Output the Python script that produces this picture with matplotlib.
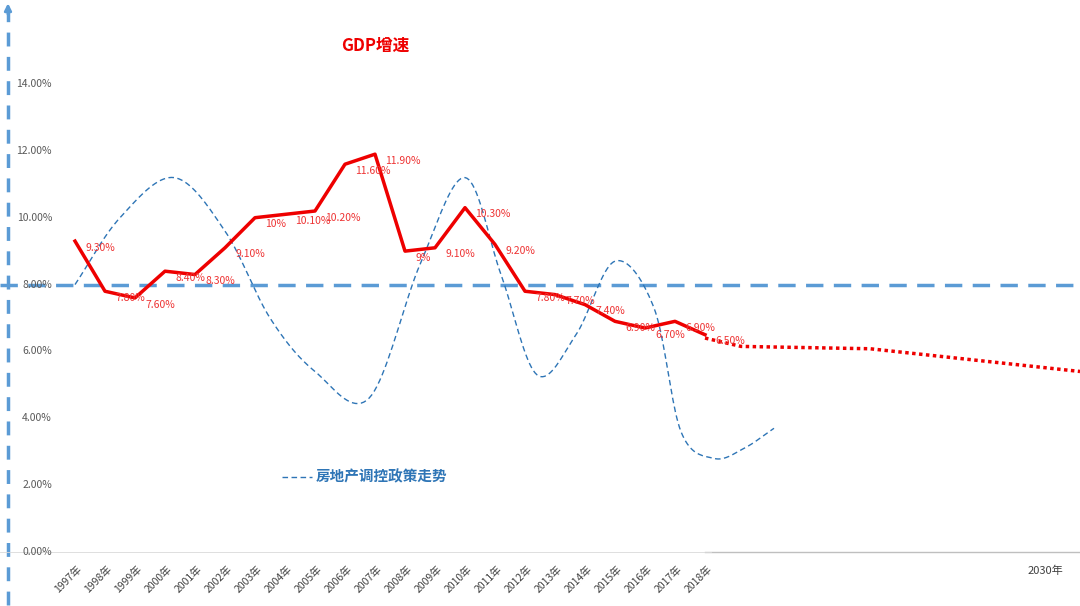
import numpy as np
import matplotlib
matplotlib.use("Agg")
import matplotlib.pyplot as plt
from matplotlib import font_manager

cands = ["Noto Sans CJK SC", "Noto Sans CJK JP", "Noto Sans CJK TC", "Noto Sans CJK KR", "Noto Sans SC"]
avail = {f.name for f in font_manager.fontManager.ttflist}
cjk = [c for c in cands if c in avail]
if not cjk:
    for f in font_manager.fontManager.ttflist:
        if "CJK" in f.fname or "CJK" in f.name:
            font_manager.fontManager.addfont(f.fname)
            cjk = [f.name]
            break
plt.rcParams["font.family"] = "sans-serif"
plt.rcParams["font.sans-serif"] = cjk + ["DejaVu Sans"]

years = list(range(1997, 2019))
year_labels = [f"{y}年" for y in years]
gdp = [9.3, 7.8, 7.6, 8.4, 8.3, 9.1, 10.0, 10.1, 10.2, 11.6, 11.9, 9.0, 9.1, 10.3, 9.2, 7.8, 7.7, 7.4, 6.9, 6.7, 6.9, 6.5]
gdp_text = ["9.30%", "7.80%", "7.60%", "8.40%", "8.30%", "9.10%", "10%", "10.10%", "10.20%", "11.60%", "11.90%", "9%",
            "9.10%", "10.30%", "9.20%", "7.80%", "7.70%", "7.40%", "6.90%", "6.70%", "6.90%", "6.50%"]
proj_x = [2018.0, 2019.2, 2023.5, 2030.5]
proj_y = [6.4, 6.15, 6.08, 5.4]
policy_x = [1997.0, 1998.5, 2000.3, 2002.0, 2003.5, 2005.0, 2006.8, 2008.5, 2010.0, 2011.2, 2012.4, 2013.7, 2015.0, 2016.3, 2017.2, 2018.3, 2019.3, 2020.3]
policy_y = [8.0, 10.0, 11.2, 9.6, 7.0, 5.4, 4.6, 8.6, 11.2, 8.3, 5.3, 6.5, 8.7, 7.3, 3.6, 2.8, 3.1, 3.7]
threshold = 8.0
yticks = [0, 2, 4, 6, 8, 10, 12, 14]

def catmull(xs, ys, n=20):
    P = np.column_stack([xs, ys])
    P = np.vstack([P[0] * 2 - P[1], P, P[-1] * 2 - P[-2]])
    out = []
    for i in range(1, len(P) - 2):
        p0, p1, p2, p3 = P[i - 1], P[i], P[i + 1], P[i + 2]
        for t in np.linspace(0, 1, n, endpoint=False):
            out.append(0.5 * ((2 * p1) + (-p0 + p2) * t + (2 * p0 - 5 * p1 + 4 * p2 - p3) * t * t
                              + (-p0 + 3 * p1 - 3 * p2 + p3) * t ** 3))
    out.append(P[-2])
    return np.array(out)

fig = plt.figure(figsize=(10.8, 6.06), dpi=100)
ax = fig.add_axes([0, 0, 1, 1])
x0 = 1997 - 75 / 30
ax.set_xlim(x0, x0 + 1080 / 30)
ax.set_ylim(-54 / 33.43, 552 / 33.43)
ax.axis("off")

xa = x0 + 8 / 30
ax.plot([xa, xa], [-1.6, 16.2], color="#5b9bd5", lw=2.5, ls=(0, (4, 3)))
ax.annotate("", xy=(xa, 16.5), xytext=(xa, 16.0),
            arrowprops=dict(arrowstyle="-|>", color="#5b9bd5", lw=2))
for t in yticks:
    ax.text(x0 + 52 / 30, t, f"{t:.2f}%", ha="right", va="center", fontsize=7.5, color="#595959")
ax.plot([2018, x0 + 36], [0, 0], color="#bfbfbf", lw=1)
ax.plot([x0, 2018.2], [0, 0], color="#d9d9d9", lw=0.6)

ax.axhline(threshold, color="#5b9bd5", lw=2.5, ls=(0, (5, 3)))

c = catmull(policy_x, policy_y)
ax.plot(c[:, 0], c[:, 1], color="#2e75b6", lw=1, ls=(0, (4, 2.5)))

ax.plot(years, gdp, color="#ee0000", lw=2.5)
ax.plot(proj_x, proj_y, color="#ee0000", lw=2.5, ls=(0, (1, 1)))
for x, y, s in zip(years, gdp, gdp_text):
    ax.text(x + 0.35, y - 0.2, s, fontsize=7.5, color="#ee3333", va="center")

for x, s in zip(years, year_labels):
    ax.text(x + 0.3, -0.35, s, rotation=45, ha="right", va="top", fontsize=7.5, color="#404040")
ax.text(x0 + 1045 / 30, -0.55, "2030年", ha="center", va="center", fontsize=8, color="#404040")

ax.text(x0 + 375 / 30, 15.15, "GDP增速", ha="center", va="center", fontsize=12, color="#ee0000", fontweight="bold")
ax.plot([x0 + 282 / 30, x0 + 312 / 30], [2.25, 2.25], color="#2e75b6", lw=1, ls=(0, (4, 2.5)))
ax.text(x0 + 316 / 30, 2.25, "房地产调控政策走势", ha="left", va="center", fontsize=10.5, color="#2e75b6", fontweight="bold")

fig.savefig("out.png", dpi=100)
